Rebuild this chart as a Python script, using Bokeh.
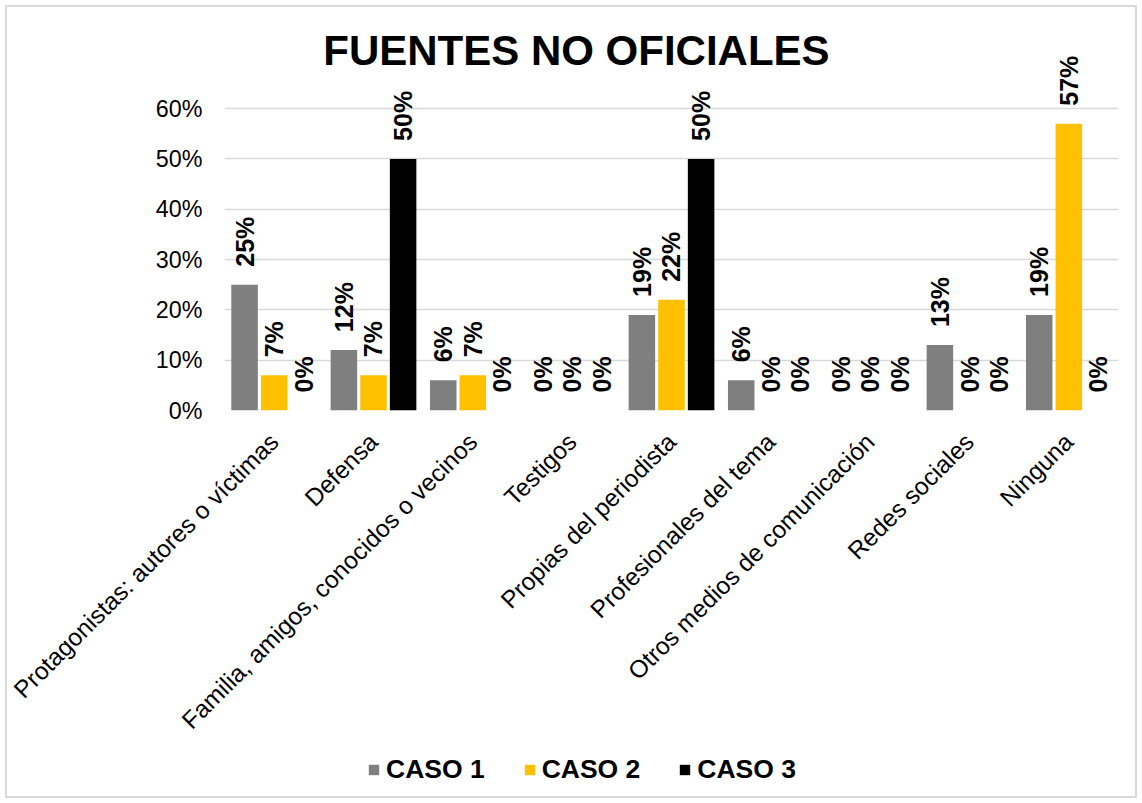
from math import pi
from bokeh.plotting import figure
from bokeh.layouts import column
from bokeh.models import (ColumnDataSource, FactorRange, Range1d, FixedTicker,
                          NumeralTickFormatter, LabelSet, Label, Legend, LegendItem)
from bokeh.core.properties import value
from bokeh.transform import dodge
from bokeh.embed import file_html
from bokeh.resources import INLINE

# ---- data ----
categories = [
    "Protagonistas: autores o víctimas",
    "Defensa",
    "Familia, amigos, conocidos o vecinos",
    "Testigos",
    "Propias del periodista",
    "Profesionales del tema",
    "Otros medios de comunicación",
    "Redes sociales",
    "Ninguna",
]
caso1 = [0.25, 0.12, 0.06, 0.00, 0.19, 0.06, 0.00, 0.13, 0.19]
caso2 = [0.07, 0.07, 0.07, 0.00, 0.22, 0.00, 0.00, 0.00, 0.57]
caso3 = [0.00, 0.50, 0.00, 0.00, 0.50, 0.00, 0.00, 0.00, 0.00]
series_names = ["CASO 1", "CASO 2", "CASO 3"]
y_ticks = [0.0, 0.1, 0.2, 0.3, 0.4, 0.5, 0.6]
title_text = "FUENTES NO OFICIALES"

# ---- styles ----
colors = ["#7F7F7F", "#FFC000", "#000000"]
offsets = [-0.298, 0.0, 0.298]
FONT = "Liberation Sans"

series = [caso1, caso2, caso3]
data = {"cat": categories}
for i, s in enumerate(series):
    data[f"v{i}"] = s
    data[f"l{i}"] = [f"{round(v * 100)}%" for v in s]
source = ColumnDataSource(data)

p = figure(x_range=FactorRange(factors=categories, range_padding=0),
           y_range=Range1d(0, 0.785),
           width=1142, height=748, output_backend="svg", toolbar_location=None,
           min_border_left=224, min_border_right=24, min_border_top=15,
           min_border_bottom=338)
p.outline_line_color = None
p.background_fill_alpha = 0
p.border_fill_alpha = 0

for i in range(3):
    p.vbar(x=dodge("cat", offsets[i], range=p.x_range), top=f"v{i}",
           width=0.267, source=source, fill_color=colors[i], line_color=None)
    labels = LabelSet(x=dodge("cat", offsets[i], range=p.x_range), y=f"v{i}",
                      text=f"l{i}", source=source, angle=pi / 2,
                      text_align="left", text_baseline="middle", y_offset=18,
                      text_font=value(FONT), text_font_size="25px",
                      text_font_style="bold", text_color="black")
    p.add_layout(labels)

# grid / axes
p.xgrid.grid_line_color = None
p.ygrid.grid_line_color = "#D9D9D9"
p.ygrid.grid_line_width = 1.5
p.yaxis.ticker = FixedTicker(ticks=y_ticks)
p.yaxis.formatter = NumeralTickFormatter(format="0%")
for ax in (p.xaxis[0], p.yaxis[0]):
    ax.axis_line_color = None
    ax.major_tick_line_color = None
    ax.minor_tick_line_color = None
    ax.major_tick_out = 0
    ax.major_tick_in = 0
    ax.minor_tick_out = 0
    ax.major_label_text_font = FONT
    ax.major_label_text_color = "black"
p.yaxis.major_label_text_font_size = "23.3px"
p.xaxis.major_label_text_font_size = "24.5px"
p.yaxis.major_label_standoff = 22
p.xaxis.major_label_orientation = pi / 4
p.xaxis.major_label_standoff = 27

# title
p.add_layout(Label(x=3.543, y=0.715, text=title_text, text_align="center",
                   text_baseline="alphabetic", text_font=FONT,
                   text_font_size="42px", text_font_style="bold",
                   text_color="black"))

# legend strip
p2 = figure(width=1142, height=55, output_backend="svg", toolbar_location=None,
            x_range=Range1d(0, 1), y_range=Range1d(0, 1),
            x_axis_location=None, y_axis_location=None,
            min_border_left=0, min_border_right=0, min_border_top=0,
            min_border_bottom=0)
p2.grid.visible = False
p2.outline_line_color = None
p2.background_fill_alpha = 0
p2.border_fill_alpha = 0
leg_src = ColumnDataSource({"x": [5.0], "top": [0.0]})
leg_renderers = [p2.vbar(x="x", top="top", width=0.1, source=leg_src,
                         fill_color=colors[i], line_color=None) for i in range(3)]
legend = Legend(items=[LegendItem(label=series_names[i], renderers=[leg_renderers[i]])
                       for i in range(3)],
                orientation="horizontal", location=(143, 18),
                glyph_width=13, glyph_height=13, label_standoff=6, spacing=38,
                padding=0, margin=0, border_line_color=None,
                background_fill_alpha=0, label_text_font=FONT,
                label_text_font_size="26.5px", label_text_font_style="bold",
                label_text_color="black")
p2.add_layout(legend)

layout = column(p, p2, spacing=0,
                styles={"outline": "2px solid #D9D9D9", "outline-offset": "-7px",
                        "background-color": "white"})
open("out.html", "w").write(file_html(layout, INLINE))
